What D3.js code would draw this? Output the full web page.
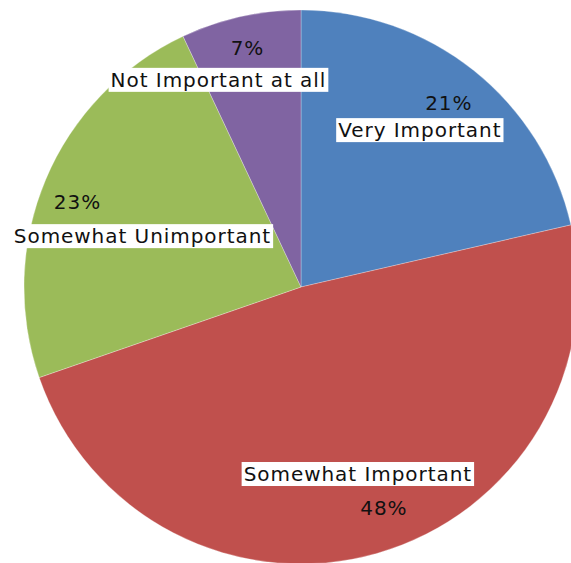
<!DOCTYPE html>
<html><head><meta charset="utf-8">
<script src="https://cdn.jsdelivr.net/npm/d3@7"></script>
<style>html,body{margin:0;padding:0;background:#fff;}svg{display:block;}</style>
</head><body>
<script>
// Data
const categories = ["Very Important", "Somewhat Important", "Somewhat Unimportant", "Not Important at all"];
const values = [21.4, 48.3, 23.3, 7.0];
const colors = ["#4F81BD", "#C0504D", "#9BBB59", "#8064A2"];
// label layout (offsets from label-arc centroid): [pctDx, pctDy, nameDx, nameDy]
const labelOffsets = [[15,-17,-14,10],[24,16,-2,-18],[-27,-2,38,32],[-7,-31,-36,1]];

const W = 571, H = 563;
const cx = 301, cy = 287, R = 277;
const svg = d3.select("body").append("svg").attr("width", W).attr("height", H);
const g = svg.append("g").attr("transform", `translate(${cx},${cy})`);

const pie = d3.pie().sort(null).value(d => d.v);
const data = categories.map((c,i) => ({c, v: values[i], i}));
const arcs = pie(data);
const arc = d3.arc().innerRadius(0).outerRadius(R);
const labelArc = d3.arc().innerRadius(R*0.77).outerRadius(R*0.77);

g.selectAll("path.slice").data(arcs).join("path")
  .attr("class","slice")
  .attr("d", arc)
  .attr("fill", d => colors[d.data.i])
  .attr("stroke", "rgba(255,255,255,0.35)")
  .attr("stroke-width", 0.8);

const font = "'DejaVu Sans', Verdana, sans-serif";
const fs = 20;
const ls = 0.95;
const total = d3.sum(values);

arcs.forEach(d => {
  const [lx, ly] = labelArc.centroid(d);
  const o = labelOffsets[d.data.i];
  g.append("text")
    .attr("x", lx + o[0]).attr("y", ly + o[1])
    .attr("text-anchor","middle").attr("dominant-baseline","central")
    .attr("font-family", font).attr("font-size", fs).attr("letter-spacing", ls)
    .attr("fill","#111")
    .text(Math.round(d.data.v / total * 100) + "%");
  const t = g.append("text")
    .attr("x", lx + o[2]).attr("y", ly + o[3])
    .attr("text-anchor","middle").attr("dominant-baseline","central")
    .attr("font-family", font).attr("font-size", fs).attr("letter-spacing", ls)
    .attr("fill","#111")
    .text(d.data.c);
  const bb = t.node().getBBox();
  g.insert("rect", () => t.node())
    .attr("x", bb.x - 2).attr("y", bb.y)
    .attr("width", bb.width + 4).attr("height", bb.height)
    .attr("fill", "#fff");
});
</script>
</body></html>
